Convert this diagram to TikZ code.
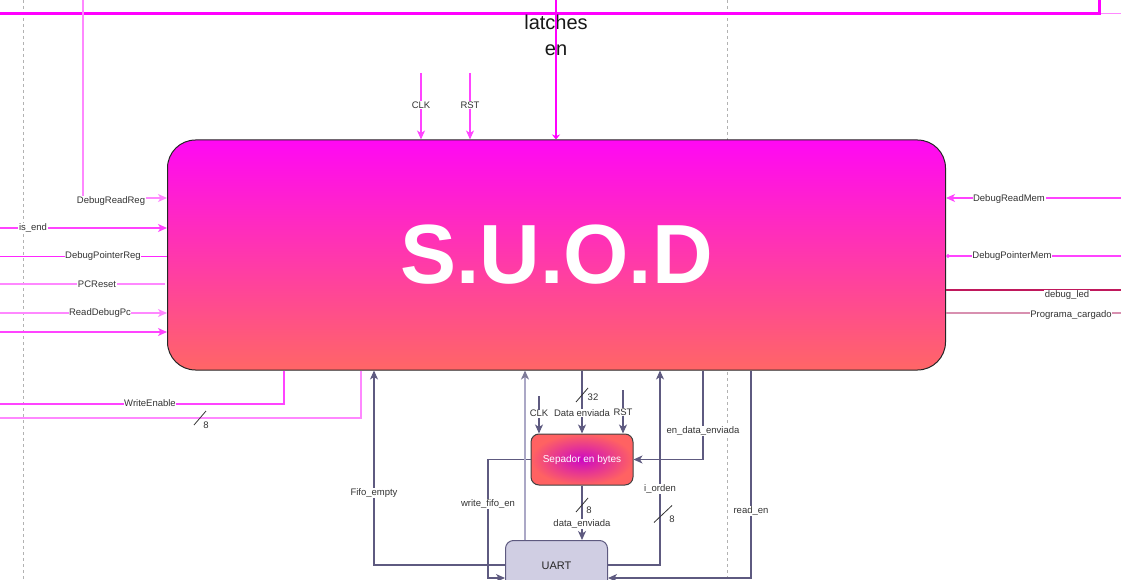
\documentclass[tikz,border=0pt]{standalone}
\usepackage{fontspec}
\setmainfont{Liberation Sans}
\usetikzlibrary{arrows.meta,calc}
\definecolor{mag}{HTML}{FF00FF}
\definecolor{mmag}{HTML}{FF44FF}
\definecolor{lmag}{HTML}{FF88FF}
\definecolor{pur}{HTML}{5E5A80}
\definecolor{lpur}{HTML}{ABA8C6}
\definecolor{txt}{HTML}{333333}
\definecolor{suodtop}{HTML}{FF08F4}
\definecolor{suodbot}{HTML}{FF6666}
\definecolor{sepin}{HTML}{CC08C4}
\definecolor{sepout}{HTML}{FF6262}
\definecolor{uartfill}{HTML}{D0CEE3}
\definecolor{crim}{HTML}{C0185C}
\definecolor{pinkish}{HTML}{D890B0}
\begin{document}
\begin{tikzpicture}[x=1pt,y=-1pt,
  lbl/.style={font=\fontsize{9.5}{11}\selectfont, text=txt, fill=white, inner sep=0.6pt},
  num/.style={font=\fontsize{9.5}{11}\selectfont, text=txt, inner sep=0pt},
  arr/.style={-{Stealth[length=9pt,width=8pt,inset=2.5pt]}},
  mline/.style={draw=mmag, line width=1.2pt},
  pline/.style={draw=pur, line width=1.1pt},
  slashln/.style={draw=black!80, line width=0.8pt},
  guide/.style={draw=black!30, dash pattern=on 3pt off 3pt, line width=0.7pt},
  suodbox/.style={draw=black!85, line width=1pt, rounded corners=28pt,
     top color=suodtop, bottom color=suodbot, minimum width=778pt, minimum height=230pt,
     inner sep=0pt, text=white, font=\fontsize{84}{90}\selectfont\bfseries},
  sepbox/.style={draw=black!75, line width=1pt, rounded corners=8pt,
     inner color=sepin, outer color=sepout, minimum width=102pt, minimum height=51pt,
     inner sep=0pt, text=white, font=\fontsize{10}{12}\selectfont},
  uartbox/.style={draw=pur, line width=1pt, rounded corners=8pt, fill=uartfill,
     minimum width=102pt, minimum height=50pt, inner sep=0pt, text=black!85,
     font=\fontsize{11}{13}\selectfont}
]
\useasboundingbox (0,0) rectangle (1121,580);

% guides
\coordinate (g1t) at (23,0); \coordinate (g1b) at (23,580);
\coordinate (g2t) at (727,0); \coordinate (g2b) at (727,580);
\draw[guide] (g1t) -- (g1b);
\draw[guide] (g2t) -- (g2b);

% nodes
\node[suodbox] (suod) at (556.5,255) {S.U.O.D};
\node[sepbox] (sep) at (582,459.5) {Sepador en bytes};
\node[uartbox] (uart) at (556.5,565.5) {UART};

% top bus
\coordinate (topL) at (0,13.5);
\coordinate (topR) at (1099,13.5);
\coordinate (topRup) at (1099,0);
\coordinate (topRR) at (1121,13.5);
\draw[lmag, line width=1.5pt] (topR) -- (topRR);
\draw[mag, line width=3pt] (topL) -- (topR) -- (topRup);

% latches en
\node[font=\fontsize{20}{26}\selectfont, align=center, text=black!90, inner sep=0pt] (lat) at (556,35) {latches\\en};
\coordinate (latT) at (556,0);
\draw[mag, line width=2.5pt, -{Stealth[length=5pt,width=8pt]}] (latT) -- (latT |- suod.north);

% CLK / RST top
\coordinate (clkT) at (421,73);
\coordinate (rstT) at (470,73);
\draw[mline, arr] (clkT) -- (clkT |- suod.north) node[lbl, pos=0.48] {CLK};
\draw[mline, arr] (rstT) -- (rstT |- suod.north) node[lbl, pos=0.48] {RST};

% left side inputs
\coordinate (drrT) at (83,0);
\coordinate (drrC) at (83,198);
\draw[draw=lmag, line width=1.3pt, arr] (drrT) -- (drrC) -- (drrC -| suod.west);
\node[lbl] (lDRR) at (111,201) {DebugReadReg};

\coordinate (inIsEnd) at (0,228);
\draw[mline, arr] (inIsEnd) -- (inIsEnd -| suod.west);
\node[lbl] (lIsEnd) at (33,228) {is\_end};

\coordinate (inDPR) at (0,256);
\draw[draw=mag!85, line width=1pt] (inDPR) -- (inDPR -| suod.west);
\node[lbl] (lDPR) at (103,256) {DebugPointerReg};

\coordinate (inPCR) at (0,284);
\coordinate (inPCRe) at (165,284);
\draw[draw=lmag, line width=1.3pt] (inPCR) -- (inPCRe);
\node[lbl] (lPCR) at (97,284) {PCReset};

\coordinate (inRDP) at (0,313);
\draw[draw=lmag, line width=1.4pt, arr] (inRDP) -- (inRDP -| suod.west);
\node[lbl] (lRDP) at (100,313) {ReadDebugPc};

\coordinate (inLast) at (0,332);
\draw[mline, arr] (inLast) -- (inLast -| suod.west);

% left side outputs (bottom)
\coordinate (weC) at (284,404);
\coordinate (weL) at (0,404);
\draw[mline] (suod.south -| weC) -- (weC) -- (weL);
\node[lbl] (lWE) at (150,403) {WriteEnable};

\coordinate (b8C) at (361,418);
\coordinate (b8L) at (0,418);
\draw[draw=lmag, line width=1.3pt] (suod.south -| b8C) -- (b8C) -- (b8L);
\coordinate (s1) at (200,418);
\draw[slashln] ($(s1)+(-6,7)$) -- ($(s1)+(6,-7)$);
\node[num] (n1) at (206,425) {8};

% right side
\coordinate (drm) at (1121,198);
\draw[draw=mmag, line width=1.1pt, arr] (drm) -- (drm -| suod.east);
\node[lbl] (lDRM) at (1009,199) {DebugReadMem};

\coordinate (dpm) at (1121,256);
\draw[draw=mmag, line width=1.1pt, -{Circle[length=4pt]}] (dpm) -- (dpm -| suod.east);
\node[lbl] (lDPM) at (1012,256) {DebugPointerMem};

\coordinate (dl) at (1121,290);
\draw[draw=crim, line width=1.1pt] (dl -| suod.east) -- (dl);
\node[lbl] (lDL) at (1067,295) {debug\_led};

\coordinate (pcg) at (1121,313);
\draw[draw=pinkish, line width=1.5pt] (pcg -| suod.east) -- (pcg);
\node[lbl] (lPC) at (1071,315) {Programa\_cargado};

% bottom connectors
\coordinate (fifoC) at (374,565);
\draw[pline, arr] (fifoC -| uart.west) -- (fifoC) -- (fifoC |- suod.south);
\node[lbl] (lFifo) at (374,493) {Fifo\_empty};

\coordinate (wf1) at (488,459.5);
\coordinate (wf2) at (488,578);
\draw[pline, arr] (sep.west) -- (wf1) -- (wf2) -- (wf2 -| uart.west);
\node[lbl] (lWF) at (488,504) {write\_fifo\_en};

\coordinate (u2s) at (525,540);
\draw[draw=lpur, line width=2pt, -{Stealth[length=9pt,width=8pt,inset=2.5pt,color=pur!80]}] (u2s |- uart.north) -- (u2s |- suod.south);

\coordinate (sclk) at (539,396);
\draw[pline, arr] (sclk) -- (sclk |- sep.north) node[lbl, pos=0.47] {CLK};

\draw[pline, arr] (suod.south -| sep.north) -- (sep.north);
\node[lbl] (lDE) at (582,413) {Data enviada};
\coordinate (s2) at (582,395);
\draw[slashln] ($(s2)+(-6,7)$) -- ($(s2)+(6,-7)$);
\node[num] (n2) at (593,397) {32};

\coordinate (srst) at (623,390);
\draw[pline, arr] (srst) -- (srst |- sep.north);
\node[lbl] (lRST) at (623,412) {RST};

\coordinate (ede) at (703,459.5);
\draw[pline, arr] (suod.south -| ede) -- (ede) -- (sep.east);
\node[lbl] (lEDE) at (703,431) {en\_data\_enviada};

\draw[pline, arr] (sep.south) -- (sep.south |- uart.north);
\node[lbl] (lDE2) at (582,524) {data\_enviada};
\coordinate (s3) at (582,505);
\draw[slashln] ($(s3)+(-6,7)$) -- ($(s3)+(6,-7)$);
\node[num] (n3) at (589,510) {8};

\coordinate (io) at (660,565);
\draw[pline, arr] (io -| uart.east) -- (io) -- (io |- suod.south);
\node[lbl] (lIO) at (660,489) {i\_orden};
\coordinate (s4) at (663,514);
\draw[slashln] ($(s4)+(-9,8.5)$) -- ($(s4)+(9,-8.5)$);
\node[num] (n4) at (672,519) {8};

\coordinate (re) at (751,578);
\draw[pline, arr] (re |- suod.south) -- (re) -- (re -| uart.east);
\node[lbl] (lRE) at (751,511) {read\_en};
\end{tikzpicture}
\end{document}
